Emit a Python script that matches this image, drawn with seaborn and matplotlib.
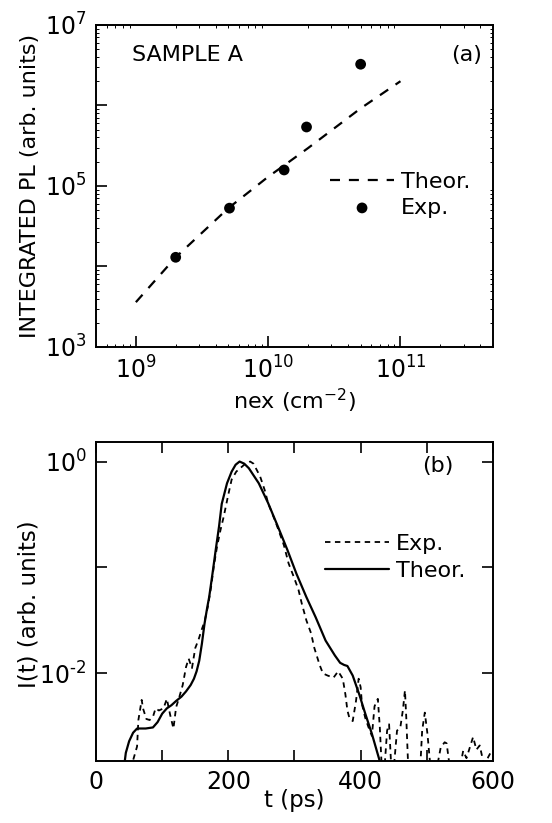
import numpy as np
import pandas as pd
import seaborn as sns
import matplotlib.pyplot as plt
from matplotlib.ticker import LogLocator, LogFormatterMathtext, MultipleLocator, NullFormatter, NullLocator

# (a) integrated PL vs excitation density
nex_exp = [2.0e9, 5.1e9, 1.32e10, 1.95e10, 5.0e10]
pl_exp = [1.3e4, 5.3e4, 1.58e5, 5.4e5, 3.25e6]
nex_theor = [1.0e9, 2.0e9, 5.0e9, 1.0e10, 1.32e10, 2.0e10, 5.0e10, 1.0e11]
pl_theor = [3.6e3, 1.3e4, 5.3e4, 1.3e5, 1.8e5, 2.95e5, 9.2e5, 2.0e6]

# (b) time resolved PL, values as log10 of intensity
t_exp = [54, 56, 62, 64, 69, 71, 76, 81, 86, 90, 95, 102, 107, 112, 117, 121, 126, 131,
         136, 140, 145, 150, 155, 159, 164, 169, 174, 178, 183, 188, 193, 200, 205, 212,
         224, 233, 238, 248, 255, 260, 272, 284, 291, 299, 306, 311, 318, 325, 330, 334,
         338, 343, 350, 359, 366, 373, 377, 380, 383, 388, 393, 397, 400, 402, 407, 412,
         417, 421, 426, 429, 432, 436, 440, 443, 446, 450, 455, 460, 464, 467, 469, 472,
         490, 493, 497, 501, 505, 515, 521, 527, 530, 534, 550, 555, 560, 565, 570, 575,
         580, 586, 592, 598]
logi_exp = [-3.0, -2.82, -2.69, -2.44, -2.25, -2.33, -2.43, -2.44, -2.41, -2.33, -2.35,
            -2.33, -2.24, -2.39, -2.52, -2.32, -2.22, -2.11, -1.94, -1.86, -1.95, -1.76,
            -1.68, -1.60, -1.51, -1.37, -1.18, -0.99, -0.80, -0.65, -0.52, -0.31, -0.17,
            -0.095, -0.03, 0.0, -0.02, -0.14, -0.27, -0.39, -0.58, -0.79, -0.96, -1.09,
            -1.21, -1.34, -1.50, -1.62, -1.76, -1.84, -1.92, -2.0, -2.02, -2.04, -1.98,
            -2.05, -2.20, -2.35, -2.42, -2.45, -2.26, -2.05, -2.13, -2.29, -2.42, -2.51,
            -2.59, -2.31, -2.24, -2.51, -2.9, -2.9, -2.54, -2.48, -2.85, -2.9, -2.54,
            -2.51, -2.34, -2.16, -2.42, -2.9, -2.9, -2.54, -2.37, -2.57, -2.85, -2.9,
            -2.70, -2.65, -2.66, -2.85, -2.9, -2.73, -2.80, -2.70, -2.60, -2.72, -2.68,
            -2.85, -2.80, -2.73]
t_theor = [41, 45, 50, 56, 62, 75, 86, 93, 100, 107, 114, 121, 129, 136, 143, 148, 152,
           156, 160, 164, 168, 171, 176, 181, 186, 190, 198, 205, 211, 217, 224, 231, 246,
           260, 274, 289, 303, 318, 332, 347, 361, 369, 375, 380, 388, 398, 407, 417, 429,
           431]
logi_theor = [-2.95, -2.75, -2.64, -2.56, -2.52, -2.52, -2.51, -2.46, -2.38, -2.33, -2.30,
              -2.26, -2.22, -2.17, -2.11, -2.05, -1.98, -1.88, -1.72, -1.53, -1.38, -1.28,
              -1.06, -0.83, -0.61, -0.40, -0.205, -0.095, -0.03, 0.0, -0.02, -0.063,
              -0.205, -0.39, -0.60, -0.83, -1.06, -1.28, -1.47, -1.69, -1.83, -1.90,
              -1.92, -1.93, -2.02, -2.20, -2.38, -2.57, -2.83, -2.95]

sns.set_style("ticks")
plt.rcParams['font.family'] = ['DejaVu Sans']
plt.rcParams['mathtext.fontset'] = 'dejavusans'
plt.rcParams['axes.linewidth'] = 1.4
for key in ['text.color', 'axes.labelcolor', 'xtick.color', 'ytick.color', 'axes.edgecolor']:
    plt.rcParams[key] = 'black'


def pow_label(v, keep):
    e = int(round(np.log10(v)))
    if e % 2 != keep:
        return ''
    # plain hyphen for the minus sign, as in the original figure
    return '$10^{%s}$' % str(e).replace('-', '\u2010')


fig = plt.figure(figsize=(5.52, 8.23), dpi=100)
ax1 = fig.add_axes([0.174, 0.5784, 0.719, 0.3913])
ax2 = fig.add_axes([0.174, 0.0757, 0.719, 0.3869])

# ---- panel (a)
sns.lineplot(x=nex_theor, y=pl_theor, ax=ax1, color='black', lw=1.6, label='Theor.')
ax1.lines[-1].set_dashes([4.5, 4])
sns.scatterplot(x=nex_exp, y=pl_exp, ax=ax1, color='black', s=60, edgecolor='none',
                label='Exp.')
ax1.set_xscale('log')
ax1.set_yscale('log')
ax1.set_xlim(5e8, 5e11)
ax1.set_ylim(1e3, 1e7)
ax1.xaxis.set_major_locator(LogLocator(base=10, numticks=10))
ax1.xaxis.set_major_formatter(LogFormatterMathtext())
ax1.yaxis.set_major_locator(LogLocator(base=10, numticks=10))
ax1.yaxis.set_major_formatter(plt.FuncFormatter(lambda v, p: pow_label(v, 1)))
ax1.xaxis.set_minor_formatter(NullFormatter())
ax1.yaxis.set_minor_formatter(NullFormatter())
ax1.tick_params(which='major', direction='in', length=8, width=1.2, labelsize=17, pad=7)
ax1.tick_params(which='minor', direction='in', length=2, width=0.7, top=True, right=True)
ax1.set_xlabel('nex (cm$^{-2}$)', fontsize=16, va='top')
ax1.xaxis.set_label_coords(0.5, -0.125)
ax1.set_ylabel('INTEGRATED PL (arb. units)', fontsize=16)
ax1.yaxis.set_label_coords(-0.14, 0.5)
ax1.text(0.09, 0.907, 'SAMPLE A', transform=ax1.transAxes, fontsize=16, va='center')
ax1.text(0.972, 0.907, '(a)', transform=ax1.transAxes, fontsize=16, va='center', ha='right')
ax1.legend(loc='center left', bbox_to_anchor=(0.589, 0.472), frameon=False, fontsize=16,
           handlelength=2.9, handletextpad=0.3, labelspacing=0.25, borderpad=0,
           borderaxespad=0)

# ---- panel (b)
df_exp = pd.DataFrame({'t': t_exp, 'I': 10.0 ** np.array(logi_exp)})
df_theor = pd.DataFrame({'t': t_theor, 'I': 10.0 ** np.array(logi_theor)})
sns.lineplot(data=df_exp, x='t', y='I', ax=ax2, color='black', lw=1.3, label='Exp.',
             sort=False)
ax2.lines[-1].set_dashes([3, 2.5])
sns.lineplot(data=df_theor, x='t', y='I', ax=ax2, color='black', lw=1.6, label='Theor.',
             sort=False)
ax2.set_yscale('log')
ax2.set_xlim(0, 600)
ax2.set_ylim(1.5e-3, 1.52)
ax2.xaxis.set_major_locator(MultipleLocator(100))
ax2.xaxis.set_major_formatter(plt.FuncFormatter(lambda v, p: '%d' % v if v % 200 == 0 else ''))
ax2.yaxis.set_major_locator(LogLocator(base=10, numticks=10))
ax2.yaxis.set_major_formatter(plt.FuncFormatter(lambda v, p: pow_label(v, 0)))
ax2.yaxis.set_minor_locator(NullLocator())
ax2.tick_params(which='major', direction='in', length=8, width=1.2, top=True, right=True,
                labelsize=17, pad=7)
ax2.set_xlabel('t (ps)', fontsize=16.5, va='top')
ax2.xaxis.set_label_coords(0.5, -0.09)
ax2.set_ylabel('I(t) (arb. units)', fontsize=16.5)
ax2.yaxis.set_label_coords(-0.14, 0.49)
ax2.text(0.90, 0.926, '(b)', transform=ax2.transAxes, fontsize=16, va='center', ha='right')
ax2.legend(loc='center left', bbox_to_anchor=(0.577, 0.638), frameon=False, fontsize=16,
           handlelength=2.9, handletextpad=0.3, labelspacing=0.3, borderpad=0,
           borderaxespad=0)

fig.savefig('out.png', dpi=100)
